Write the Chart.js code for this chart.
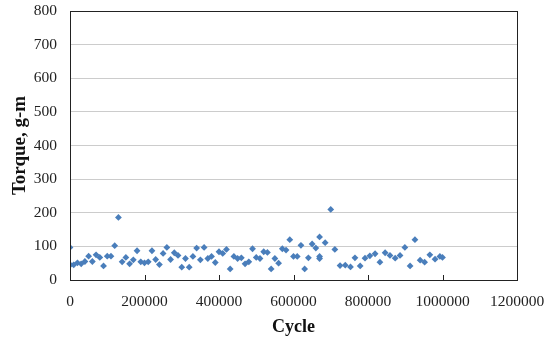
<!DOCTYPE html>
<html>
<head>
<meta charset="utf-8">
<script src="https://cdn.jsdelivr.net/npm/chart.js@4"></script>
<style>
  html, body { margin: 0; padding: 0; background: #fff; }
  #wrap { width: 551px; height: 338px; }
</style>
</head>
<body>
<div id="wrap"><canvas id="c" width="551" height="338"></canvas></div>
<script>
// Torque readings vs. cycle count
const cycles = [
    0, 1000, 10000, 20000, 30000, 40000, 50000, 60000, 70000, 80000, 90000,
    100000, 110000, 120000, 130000, 140000, 150000, 160000, 170000, 180000, 190000,
    200000, 210000, 220000, 230000, 240000, 250000, 260000, 270000, 280000, 290000,
    300000, 310000, 320000, 330000, 340000, 350000, 360000, 370000, 380000, 390000,
    400000, 410000, 420000, 430000, 440000, 450000, 460000, 470000, 480000, 490000,
    500000, 510000, 520000, 530000, 540000, 550000, 560000, 570000, 580000, 590000,
    600000, 610000, 620000, 630000, 640000, 650000, 660000, 670000, 670000, 670000,
    685000, 700000, 711000, 725000, 739000, 753000, 765000, 779000, 792000, 805000,
    819000, 832000, 846000, 859000, 873000, 886000, 899000, 913000, 926000, 940000,
    952000, 966000, 980000, 993000, 1000000
];
const torque = [
    97, 45, 45, 51, 48, 55, 71, 55, 75, 67, 42,
    71, 71, 102, 186, 54, 67, 48, 60, 87, 54,
    51, 54, 87, 61, 46, 79, 97, 61, 81, 73,
    38, 64, 38, 70, 95, 60, 97, 64, 70, 52,
    84, 79, 91, 33, 70, 64, 66, 48, 54, 93,
    67, 64, 84, 82, 33, 64, 50, 93, 89, 120,
    70, 70, 103, 33, 66, 107, 95, 128, 70, 64,
    111, 210, 91, 43, 44, 39, 66, 42, 65, 72,
    78, 53, 81, 73, 65, 73, 97, 42, 120, 59,
    53, 75, 62, 70, 67
];
const xTicks = [0, 200000, 400000, 600000, 800000, 1000000, 1200000];
const yTicks = [0, 100, 200, 300, 400, 500, 600, 700, 800];

const serif = "'Liberation Serif', 'Times New Roman', serif";

// plot border plus small inward tick marks on the x axis
const frame = {
    id: "frame",
    afterDraw(chart) {
        const { ctx, chartArea: a, scales } = chart;
        ctx.save();
        ctx.strokeStyle = "#222";
        ctx.lineWidth = 1;
        ctx.strokeRect(Math.round(a.left) + 0.5, Math.round(a.top) + 0.5,
            Math.round(a.right - a.left), Math.round(a.bottom - a.top));
        ctx.beginPath();
        xTicks.forEach((t) => {
            const x = Math.round(scales.x.getPixelForValue(t)) + 0.5;
            ctx.moveTo(x, a.bottom);
            ctx.lineTo(x, a.bottom - 5);
        });
        ctx.stroke();
        ctx.restore();
    },
};

const data = cycles.map((c, i) => ({ x: c, y: torque[i] }));

new Chart(document.getElementById("c").getContext("2d"), {
    type: "scatter",
    data: {
        datasets: [{
            label: "Torque",
            data,
            pointStyle: "rectRot",
            pointRadius: 3.4,
            backgroundColor: "#4a7ebb",
            borderColor: "#4a7ebb",
            borderWidth: 0,
        }],
    },
    options: {
        responsive: false,
        animation: false,
        layout: { padding: { top: 11, right: 34, left: 0, bottom: 0 } },
        plugins: { legend: { display: false }, tooltip: { enabled: false } },
        scales: {
            x: {
                type: "linear",
                min: 0,
                max: 1200000,
                afterFit: (s) => {
                    s.height = 58;
                    s.paddingLeft = 0;
                    s.paddingRight = 0;
                },
                afterBuildTicks: (s) => { s.ticks = xTicks.map((v) => ({ value: v })); },
                grid: { drawOnChartArea: false, drawTicks: false },
                border: { color: "#222" },
                ticks: {
                    padding: 13,
                    color: "#222",
                    maxRotation: 0,
                    font: { family: serif, size: 15.5 },
                    callback: (v) => String(v),
                },
                title: {
                    display: true,
                    text: "Cycle",
                    color: "#111",
                    padding: { top: 2, bottom: 0 },
                    font: { family: serif, size: 18, weight: "bold" },
                },
            },
            y: {
                min: 0,
                max: 800,
                afterFit: (s) => {
                    s.width = 70;
                    s.paddingTop = 0;
                    s.paddingBottom = 0;
                },
                afterBuildTicks: (s) => { s.ticks = yTicks.map((v) => ({ value: v })); },
                grid: { color: "#cccccc", drawTicks: false },
                border: { color: "#222" },
                ticks: {
                    padding: 13,
                    color: "#222",
                    font: { family: serif, size: 15.5 },
                },
                title: {
                    display: true,
                    text: "Torque, g-m",
                    color: "#111",
                    padding: { top: 9, bottom: 0 },
                    font: { family: serif, size: 19, weight: "bold" },
                },
            },
        },
    },
    plugins: [frame],
});
</script>
</body>
</html>
